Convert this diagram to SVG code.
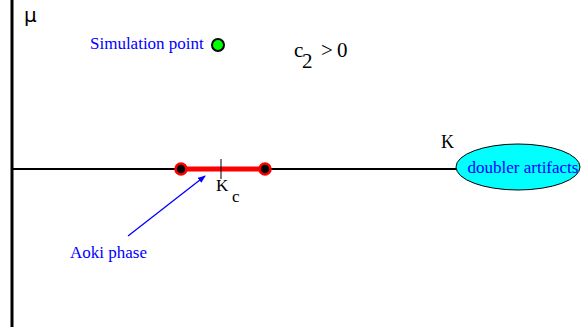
<svg xmlns="http://www.w3.org/2000/svg" width="581" height="327" viewBox="0 0 581 327">
<style>
.t{font-family:"Liberation Serif",serif;}
.blue{fill:#0000ff;font-size:17px;}
.blk{fill:#000;}
</style>
<defs>
<marker id="ah" markerWidth="8" markerHeight="6" refX="7" refY="3" orient="auto" markerUnits="userSpaceOnUse">
<path d="M0,0 L8,3 L0,6 Z" fill="#0000ff"/>
</marker>
</defs>
<rect width="581" height="327" fill="#fff"/>
<g id="connectors">
<line x1="12" y1="0" x2="12" y2="327" stroke="#000" stroke-width="3"/>
<line x1="12" y1="169" x2="457" y2="169" stroke="#000" stroke-width="2"/>
<line x1="181" y1="169" x2="265" y2="169" stroke="#ff0000" stroke-width="5"/>
<line x1="221" y1="159" x2="221" y2="179" stroke="#000" stroke-width="1"/>
<line x1="128" y1="236" x2="205" y2="176" stroke="#0000ff" stroke-width="1.3" marker-end="url(#ah)"/>
</g>
<g id="mu"><text class="blk" x="24" y="22" font-size="20" font-family="DejaVu Sans, sans-serif">μ</text></g>
<g id="sim">
<text class="t blue" x="90" y="49">Simulation point</text>
<circle cx="218" cy="45" r="6" fill="#00ff00" stroke="#000" stroke-width="2"/>
</g>
<g id="c2"><text class="t blk" x="294" y="57" font-size="21">c</text><text class="t blk" x="302" y="68" font-size="21">2</text><text class="t blk" x="321" y="57" font-size="21">&gt;</text><text class="t blk" x="337" y="57" font-size="21">0</text></g>
<g id="aoki">
<circle cx="181" cy="169" r="5.5" fill="#000" stroke="#ff0000" stroke-width="2.5"/>
<circle cx="265" cy="169" r="5.5" fill="#000" stroke="#ff0000" stroke-width="2.5"/>
<text class="t blue" x="70" y="258">Aoki phase</text>
</g>
<g id="kc"><text class="t blk" x="216" y="191" font-size="17">K</text><text class="t blk" x="232" y="202" font-size="17">c</text></g>
<g id="kappa"><text class="t blk" x="441" y="148" font-size="18">K</text></g>
<g id="doubler">
<ellipse cx="518" cy="167" rx="62" ry="23" fill="#00ffff" stroke="#000" stroke-width="1"/>
<text class="t blue" x="523" y="173" text-anchor="middle" font-size="16.5">doubler artifacts</text>
</g>
</svg>
